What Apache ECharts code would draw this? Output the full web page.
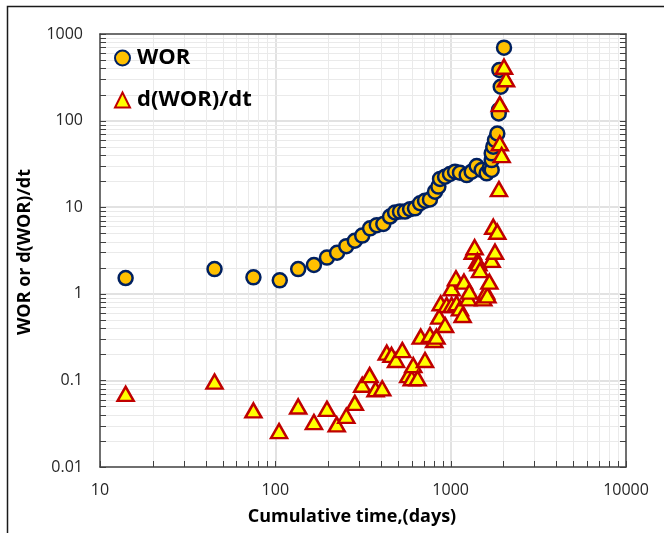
<!DOCTYPE html>
<html>
<head>
<meta charset="utf-8">
<script src="https://cdn.jsdelivr.net/npm/echarts@6/dist/echarts.min.js"></script>
<style>
  html, body { margin: 0; padding: 0; background: #fff; }
  #chart { width: 664px; height: 533px; }
</style>
</head>
<body>
<div id="chart"></div>
<script>
// Water-oil ratio history
const worDays = [14, 45, 75, 106, 135, 166, 197, 225, 254, 284, 313, 347, 379, 413, 451,
  482, 514, 549, 587, 626, 669, 714, 762, 814, 851, 870, 929, 991, 1059, 1130,
  1234, 1318, 1407, 1503, 1604, 1670, 1714, 1714, 1714, 1750, 1790, 1845, 1885, 1880, 1930,
  1895, 2015];
const worValues = [1.52, 1.93, 1.55, 1.43, 1.93, 2.15, 2.62, 2.98, 3.55, 4.1, 4.7, 5.7, 6.2, 6.4, 7.8,
  8.7, 8.9, 8.9, 9.5, 9.7, 11.1, 11.9, 12.3, 15.1, 17.3, 21.2, 22.5, 24.2, 25.7, 25.0,
  23.5, 25.7, 29.9, 26.9, 24.6, 28.1, 26.9, 35, 41.9, 50, 59.7, 71, 132, 121, 246,
  384, 695];

// Time derivative of WOR
const derivDays = [14, 45, 75, 105, 135, 166, 197, 224, 254, 284, 313, 345, 373, 407, 432,
  460, 488, 530, 573, 600, 612, 648, 675, 714, 762, 806, 830, 861, 877, 929,
  948, 1012, 1012, 1072, 1081, 1130, 1170, 1191, 1260, 1277, 1337, 1370, 1420, 1440, 1470,
  1535, 1592, 1620, 1663, 1714, 1750, 1790, 1845, 1885, 1906, 1953, 1906, 2069, 2015];
const derivValues = [0.07, 0.097, 0.045, 0.026, 0.05, 0.033, 0.047, 0.031, 0.039, 0.055, 0.089, 0.115, 0.079, 0.081, 0.209,
  0.197, 0.172, 0.224, 0.115, 0.106, 0.15, 0.106, 0.32, 0.172, 0.334, 0.293, 0.32, 0.544, 0.777, 0.436,
  0.742, 0.742, 1.16, 1.51, 0.777, 0.68, 0.569, 1.38, 0.887, 1.06, 3.06, 3.45, 2.4, 2.25, 1.88,
  0.887, 1.06, 0.96, 1.38, 2.46, 5.95, 3.06, 5.21, 16.2, 54.7, 40, 155, 300, 419];

const seriesNames = ['WOR', 'd(WOR)/dt'];
const xTitle = 'Cumulative time,(days)';
const yTitle = 'WOR or d(WOR)/dt';
const xRange = [10, 10000];
const yRange = [0.01, 1000];

// Log-decade guide positions: [value, isMajor]
function decadeGuides(lo, hi) {
  const out = [];
  for (let d = lo; d < hi * 0.999; d *= 10) {
    for (let k = 1; k <= 9; k++) out.push([+(d * k).toPrecision(6), k === 1 ? 1 : 0]);
  }
  out.push([hi, 1]);
  return out;
}
const xGuides = decadeGuides(xRange[0], xRange[1]);
const yGuides = decadeGuides(yRange[0], yRange[1]);

const AXIS_COLOR = '#404040';
const MINOR_GRID = '#eaeaea';
const TICK_LEN = 6;

function renderXGuide(params, api) {
  const cs = params.coordSys;
  const x = Math.round(api.coord([api.value(0), 1])[0]) + 0.5;
  const bottom = cs.y + cs.height;
  const kids = [];
  if (!api.value(2)) {
    kids.push({ type: 'line', shape: { x1: x, y1: cs.y, x2: x, y2: bottom },
      style: { stroke: MINOR_GRID, lineWidth: 1 } });
  }
  kids.push({ type: 'line', shape: { x1: x, y1: bottom, x2: x, y2: bottom - TICK_LEN },
    style: { stroke: AXIS_COLOR, lineWidth: 1 } });
  return { type: 'group', children: kids };
}

function renderYGuide(params, api) {
  const cs = params.coordSys;
  const y = Math.round(api.coord([10, api.value(1)])[1]) + 0.5;
  const right = cs.x + cs.width;
  const kids = [];
  if (!api.value(2)) {
    kids.push({ type: 'line', shape: { x1: cs.x, y1: y, x2: right, y2: y },
      style: { stroke: MINOR_GRID, lineWidth: 1 } });
  }
  kids.push({ type: 'line', shape: { x1: cs.x, y1: y, x2: cs.x + TICK_LEN, y2: y },
    style: { stroke: AXIS_COLOR, lineWidth: 1 } });
  kids.push({ type: 'line', shape: { x1: right, y1: y, x2: right - TICK_LEN, y2: y },
    style: { stroke: AXIS_COLOR, lineWidth: 1 } });
  return { type: 'group', children: kids };
}

const numLabel = v => String(+(+v).toPrecision(6));
const FONT = '"Open Sans", "Liberation Sans", sans-serif';

const baseAxis = {
  type: 'log',
  logBase: 10,
  axisTick: { show: false },
  axisLine: { show: true, lineStyle: { color: AXIS_COLOR, width: 1.5 } },
  splitLine: { show: true, showMinLine: false, showMaxLine: false,
    lineStyle: { color: '#d9d9d9', width: 1.5 } },
  minorTick: { show: false },
  minorSplitLine: { show: false }
};

const chart = echarts.init(document.getElementById('chart'), null, { renderer: 'canvas' });

chart.setOption({
  backgroundColor: '#ffffff',
  animation: false,
  grid: { left: 100, top: 34, width: 526, height: 433, show: false },
  xAxis: [
    Object.assign({}, baseAxis, {
      min: xRange[0], max: xRange[1], position: 'bottom', z: 1,
      axisLabel: { fontFamily: FONT, fontSize: 16, color: '#262626', margin: 15, formatter: numLabel }
    }),
    Object.assign({}, baseAxis, {
      min: xRange[0], max: xRange[1], position: 'top', z: 5,
      axisLabel: { show: false }, splitLine: { show: false }
    })
  ],
  yAxis: [
    Object.assign({}, baseAxis, {
      min: yRange[0], max: yRange[1], position: 'left', z: 1,
      axisLabel: { fontFamily: FONT, fontSize: 16, color: '#262626', margin: 17, formatter: numLabel }
    }),
    Object.assign({}, baseAxis, {
      min: yRange[0], max: yRange[1], position: 'right', z: 5,
      axisLabel: { show: false }, splitLine: { show: false }
    })
  ],
  legend: {
    orient: 'vertical',
    left: 109,
    top: 41,
    itemWidth: 15,
    itemHeight: 15,
    itemGap: 18,
    data: [
      { name: seriesNames[0], icon: 'circle' },
      { name: seriesNames[1], icon: 'triangle' }
    ],
    textStyle: { fontFamily: FONT, fontSize: 22, fontWeight: 'bold', color: '#000',
      lineHeight: 24, padding: [0, 0, 0, 2] }
  },
  graphic: [
    { type: 'rect', shape: { x: 7.5, y: 6.5, width: 700, height: 600 },
      style: { fill: 'none', stroke: '#1a1a1a', lineWidth: 1.5 }, z: 10, silent: true },
    { type: 'text', x: 352, y: 517,
      style: { text: xTitle, font: 'bold 18px ' + FONT, fill: '#000',
        textAlign: 'center', textVerticalAlign: 'middle' } },
    { type: 'text', x: 25, y: 252, rotation: Math.PI / 2,
      style: { text: yTitle, font: 'bold 18px ' + FONT, fill: '#000',
        textAlign: 'center', textVerticalAlign: 'middle' } }
  ],
  series: [
    {
      type: 'custom', name: 'xguides', silent: true, z: 2, clip: false,
      renderItem: renderXGuide,
      encode: { x: 0, y: 1 },
      data: xGuides.map(g => [g[0], 1, g[1]])
    },
    {
      type: 'custom', name: 'yguides', silent: true, z: 2, clip: false,
      renderItem: renderYGuide,
      encode: { x: 0, y: 1 },
      data: yGuides.map(g => [10, g[0], g[1]])
    },
    {
      type: 'scatter', name: seriesNames[0], z: 3,
      symbol: 'circle', symbolSize: 14,
      itemStyle: { color: '#FFC000', borderColor: '#002060', borderWidth: 2.5, opacity: 1 },
      data: worDays.map((d, i) => [d, worValues[i]])
    },
    {
      type: 'scatter', name: seriesNames[1], z: 4,
      symbol: 'triangle', symbolSize: [16, 14],
      itemStyle: { color: '#FFFF00', borderColor: '#C00000', borderWidth: 2.5, opacity: 1 },
      data: derivDays.map((d, i) => [d, derivValues[i]])
    }
  ]
});
</script>
</body>
</html>
